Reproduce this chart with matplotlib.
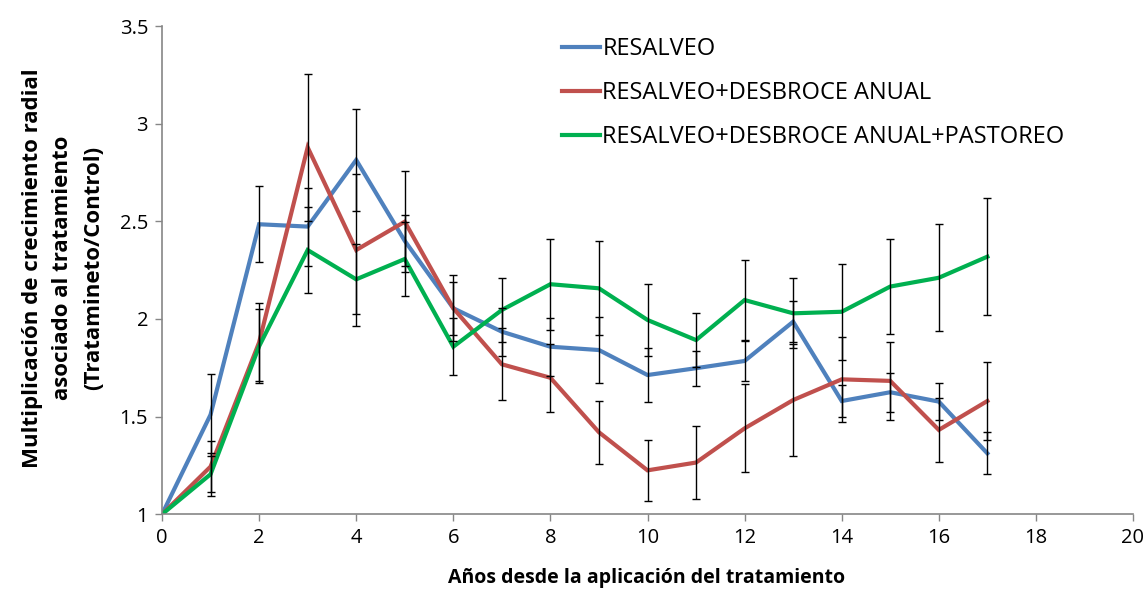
import matplotlib
matplotlib.use("Agg")
from matplotlib import pyplot as plt
import numpy as np

years = list(range(0, 18))

resalveo = [1.0, 1.51, 2.485, 2.473, 2.814, 2.40, 2.055, 1.935, 1.858, 1.841,
            1.713, 1.748, 1.785, 1.986, 1.58, 1.625, 1.577, 1.312]
resalveo_err = [0, 0.21, 0.195, 0.2, 0.26, 0.13, 0.17, 0.122, 0.149, 0.17,
                0.14, 0.09, 0.1, 0.105, 0.08, 0.1, 0.095, 0.108]

desbroce = [1.0, 1.244, 1.88, 2.879, 2.353, 2.498, 2.055, 1.768, 1.699, 1.42,
            1.225, 1.265, 1.44, 1.585, 1.691, 1.683, 1.432, 1.58]
desbroce_err = [0, 0.13, 0.2, 0.375, 0.39, 0.26, 0.135, 0.185, 0.175, 0.16,
                0.155, 0.185, 0.225, 0.285, 0.218, 0.2, 0.165, 0.2]

pastoreo = [1.0, 1.205, 1.86, 2.353, 2.203, 2.307, 1.858, 2.046, 2.178, 2.157,
            1.995, 1.892, 2.097, 2.029, 2.037, 2.166, 2.211, 2.319]
pastoreo_err = [0, 0.11, 0.19, 0.22, 0.18, 0.19, 0.145, 0.166, 0.232, 0.24,
                0.185, 0.14, 0.205, 0.18, 0.245, 0.245, 0.275, 0.3]

labels = ["RESALVEO", "RESALVEO+DESBROCE ANUAL", "RESALVEO+DESBROCE ANUAL+PASTOREO"]
colors = ["#4F81BD", "#C0504D", "#00B050"]

plt.rcParams["font.family"] = ["Open Sans", "DejaVu Sans"]

fig = plt.figure(figsize=(11.47, 5.9), dpi=100)
ax = fig.add_axes([162 / 1147, 1 - 514.3 / 590, (1133 - 162) / 1147, (514.3 - 26) / 590])

series = [(resalveo, resalveo_err), (desbroce, desbroce_err), (pastoreo, pastoreo_err)]
handles = []
for (vals, errs), lab, col in zip(series, labels, colors):
    (ln,) = ax.plot(years, vals, color=col, lw=3.0, label=lab, zorder=2,
                    solid_joinstyle="miter")
    handles.append(ln)
for vals, errs in series:
    ax.errorbar(years[1:], vals[1:], yerr=errs[1:], fmt="none", ecolor="black",
                elinewidth=1.0, capsize=3, capthick=1.0, zorder=3)

ax.set_xlim(0, 20)
ax.set_ylim(1, 3.5)
ax.set_xticks(np.arange(0, 21, 2))
ax.set_yticks([1, 1.5, 2, 2.5, 3, 3.5])
ax.set_yticklabels(["1", "1.5", "2", "2.5", "3", "3.5"])

for s in ["top", "right"]:
    ax.spines[s].set_visible(False)
for s in ["left", "bottom"]:
    ax.spines[s].set_color("#868686")
    ax.spines[s].set_linewidth(1.2)
ax.tick_params(axis="both", direction="out", length=5, width=1, color="#868686",
               labelsize=14.5, labelcolor="black", pad=5)

fig.text(647 / 1147, 1 - 578 / 590, "Años desde la aplicación del tratamiento",
         ha="center", va="center", fontsize=14, fontweight="bold")
fig.text(63 / 1147, 1 - 268 / 590,
         "Multiplicación de crecimiento radial\nasociado al tratamiento\n(Tratamineto/Control)",
         ha="center", va="center", rotation=90, fontsize=16, fontweight="bold",
         linespacing=1.6)

ax.legend(handles=handles, loc="upper left", bbox_to_anchor=(541 / 1147, 1 - 16 / 590),
          bbox_transform=fig.transFigure, frameon=False, fontsize=17,
          handlelength=1.6, handletextpad=0.1, labelspacing=0.85)

fig.savefig("out.png", dpi=100)
